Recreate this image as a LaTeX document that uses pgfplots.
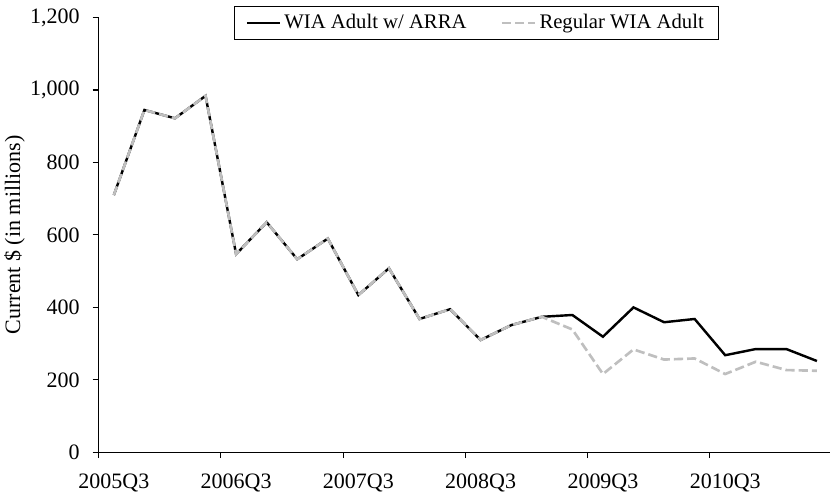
\documentclass[border=0pt]{standalone}
\usepackage{fontspec}
\setmainfont{Liberation Serif}
\usepackage{pgfplots}
\pgfplotsset{compat=1.18}
\usetikzlibrary{calc}
\definecolor{lgray}{RGB}{191,191,191}
\begin{document}
\begin{tikzpicture}
\begin{axis}[
  name=ax,
  scale only axis,
  width=333.5pt, height=197.6pt,
  xmin=-0.5, xmax=23.5,
  ymin=0, ymax=1200,
  axis lines*=left,
  axis line style={-, black, line width=0.5pt},
  tick align=outside,
  major tick length=2.7pt,
  tick style={black, line width=0.5pt},
  xtick={-0.5,3.5,7.5,11.5,15.5,19.5,23.5},
  xticklabels={2005Q3,2006Q3,2007Q3,2008Q3,2009Q3,2010Q3,{}},
  xticklabel style={xshift=6.95pt, yshift=-3.5pt},
  ytick={0,200,400,600,800,1000,1200},
  yticklabel style={xshift=-2.4pt},
  /pgf/number format/.cd, 1000 sep={,}, assume math mode=true,
  /pgfplots/.cd,
  ticklabel style={font=\fontsize{10}{12}\selectfont},
  ylabel={Current \$ (in millions)},
  every axis y label/.style={at={(axis description cs:-0.1146,0.5)}, rotate=90, anchor=center, font=\fontsize{10}{12}\selectfont},
  legend columns=2,
  legend image code/.code={\draw[#1] (0pt,0pt) -- (15pt,0pt);},
  legend style={at={(0.515,1.027)}, anchor=north, draw=black, line width=0.5pt,
    font=\fontsize{9.4}{11}\selectfont, inner xsep=5pt, inner ysep=1pt,
    nodes={inner xsep=1.5pt, inner ysep=2.5pt},
    /tikz/every even column/.append style={column sep=14pt}},
  legend cell align=left,
  clip=false,
]
\addplot[black, line width=1.1pt] coordinates {
(0,710) (1,945) (2,922) (3,984) (4,547) (5,635) (6,533) (7,590) (8,434) (9,508) (10,368) (11,395) (12,310) (13,351) (14,374) (15,379) (16,319) (17,400) (18,359) (19,368) (20,268) (21,285) (22,285) (23,252)};
\addlegendentry{WIA Adult w/ ARRA}
\addplot[lgray, line width=1.2pt, dash pattern=on 4.2pt off 1.8pt] coordinates {
(0,710) (1,945) (2,922) (3,984) (4,547) (5,635) (6,533) (7,590) (8,434) (9,508) (10,368) (11,395) (12,310) (13,351) (14,374) (15,339) (16,216) (17,284) (18,256) (19,259) (20,216) (21,250) (22,227) (23,225)};
\addlegendentry{Regular WIA Adult}
\end{axis}
\pgfresetboundingbox
\path[use as bounding box] ($(ax.south west)+(-44.8pt,-18.9pt)$) rectangle ++(377.3pt,224.5pt);
\end{tikzpicture}
\end{document}
